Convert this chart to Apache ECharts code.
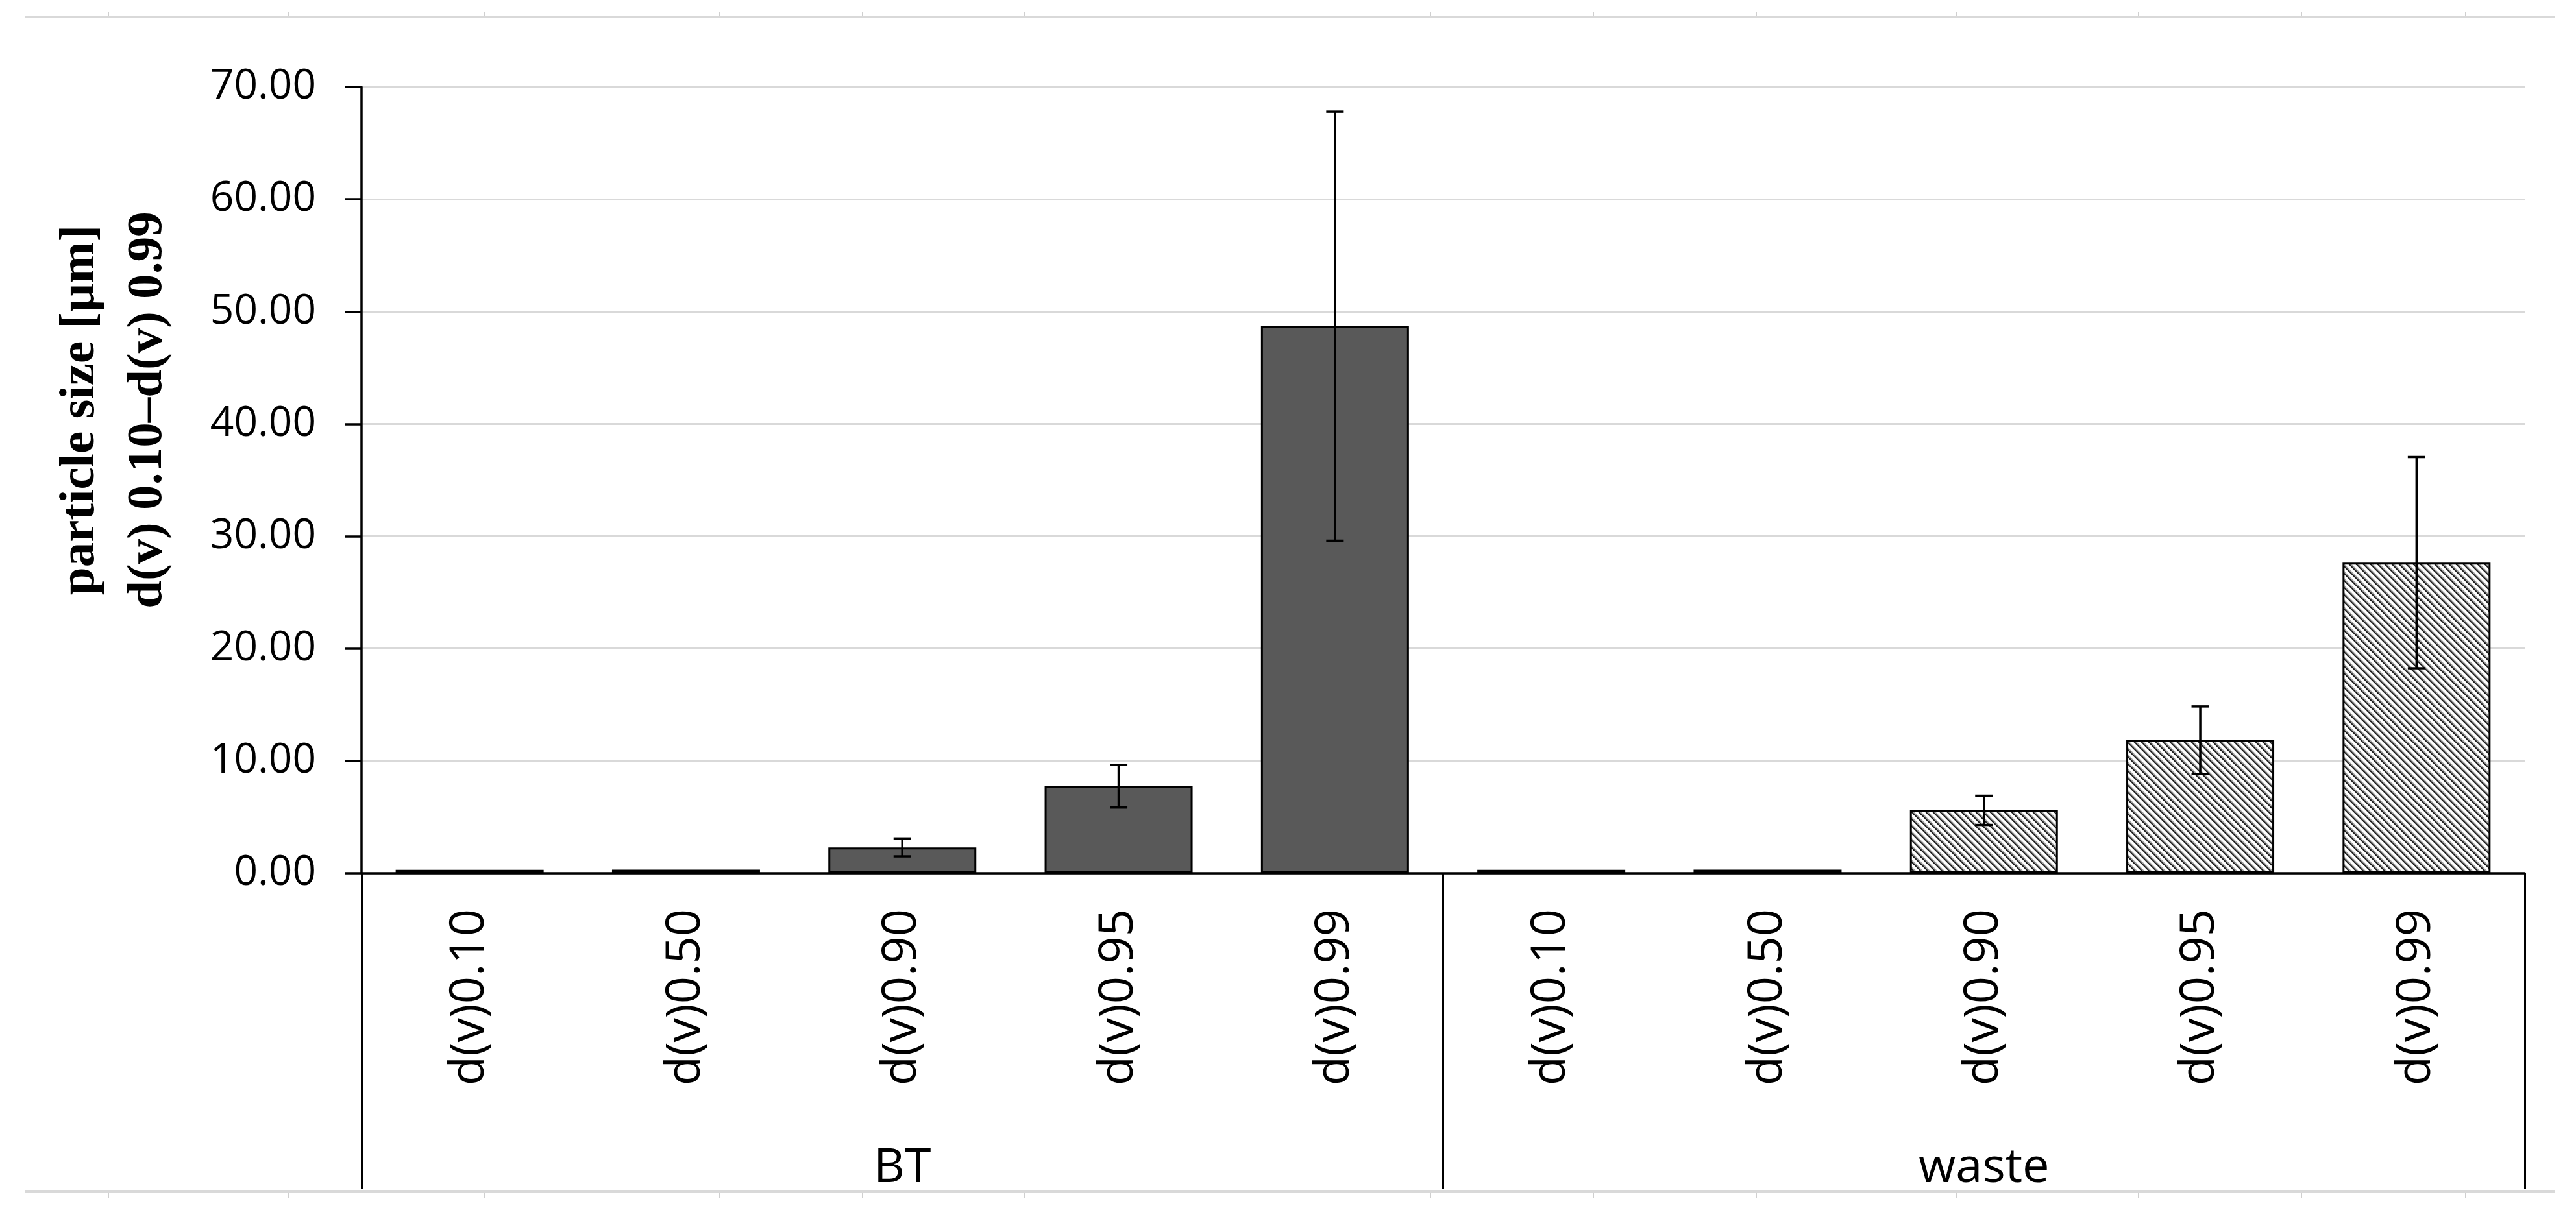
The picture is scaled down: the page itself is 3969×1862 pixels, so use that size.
<!DOCTYPE html>
<html>
<head>
<meta charset="utf-8">
<style>
    html, body { margin: 0; padding: 0; background: #fff; }
    #chart { width: 3969px; height: 1862px; }
</style>
</head>
<body>
<div id="chart"></div>
<script src="https://cdn.jsdelivr.net/npm/echarts@6/dist/echarts.min.js"></script>
<script>
    // data
    var groups = ['BT', 'waste'];
    var levels = ['d(v)0.10', 'd(v)0.50', 'd(v)0.90', 'd(v)0.95', 'd(v)0.99'];
    var btMean = [0.3, 0.32, 2.3, 7.75, 48.7];
    var btSd = [0, 0, 0.8, 1.9, 19.1];
    var wasteMean = [0.3, 0.32, 5.6, 11.85, 27.65];
    var wasteSd = [0, 0, 1.3, 3.0, 9.4];
    var yTicks = [0, 10, 20, 30, 40, 50, 60, 70];
    var yTitle = ['particle size [µm]', 'd(v) 0.10\u2013d(v) 0.99'];

    // one category per (group, level)
    var cats = [];
    groups.forEach(function (g) {
        levels.forEach(function (l) { cats.push(g + '|' + l); });
    });
    var empty = levels.map(function () { return '-'; });
    var btData = btMean.concat(empty);
    var wasteData = empty.concat(wasteMean);

    var errData = [];
    btMean.forEach(function (m, i) {
        if (btSd[i] > 0) errData.push([i, m - btSd[i], m + btSd[i]]);
    });
    wasteMean.forEach(function (m, i) {
        if (wasteSd[i] > 0) errData.push([i + levels.length, m - wasteSd[i], m + wasteSd[i]]);
    });

    // hatch fill for the waste bars
    function makeHatch() {
        var p = 11;
        var c = document.createElement('canvas');
        c.width = p;
        c.height = p;
        var ctx = c.getContext('2d');
        ctx.fillStyle = '#fff';
        ctx.fillRect(0, 0, p, p);
        function diag(off, color, w) {
            ctx.strokeStyle = color;
            ctx.lineWidth = w;
            [-p, 0, p].forEach(function (s) {
                ctx.beginPath();
                ctx.moveTo(s + off - 1, -1);
                ctx.lineTo(s + off + p + 1, p + 1);
                ctx.stroke();
            });
        }
        diag(0, '#1a1a1a', 2.2);
        diag(2.6, '#a0a0a0', 1.8);
        return c;
    }

    // page border lines (grey, with small notches)
    function pageBorders() {
        var notchX = [167, 445, 747, 1109, 1329, 1579, 2204, 2455, 2706, 3014, 3295, 3546, 3799];
        var els = [];
        var lineStyle = { stroke: '#d9d9d9', lineWidth: 4 };
        var notchStyle = { stroke: '#cfcfcf', lineWidth: 2 };
        els.push({ type: 'line', shape: { x1: 38, y1: 26, x2: 3936, y2: 26 }, style: lineStyle });
        els.push({ type: 'line', shape: { x1: 38, y1: 1837, x2: 3936, y2: 1837 }, style: lineStyle });
        notchX.forEach(function (x) {
            els.push({ type: 'line', shape: { x1: x, y1: 18, x2: x, y2: 24 }, style: notchStyle });
            els.push({ type: 'line', shape: { x1: x, y1: 1839, x2: x, y2: 1846 }, style: notchStyle });
        });
        return els;
    }

    var myChart = echarts.init(document.getElementById('chart'), null, { renderer: 'canvas' });

    var graphics = pageBorders();
    graphics.push({
        type: 'text',
        x: 176,
        y: 632,
        rotation: Math.PI / 2,
        style: {
            text: yTitle.join('\n'),
            fontFamily: 'Liberation Serif',
            fontWeight: 'bold',
            fontSize: 77,
            lineHeight: 104,
            fill: '#000',
            align: 'center',
            verticalAlign: 'middle'
        }
    });

    var option = {
        animation: false,
        backgroundColor: '#fff',
        graphic: graphics,
        grid: { left: 557, right: 79, top: 134, bottom: 516, containLabel: false },
        xAxis: [
            {
                type: 'category',
                data: cats,
                position: 'bottom',
                axisLine: { show: true, lineStyle: { color: '#000', width: 3.5 } },
                axisTick: { show: false },
                axisLabel: {
                    interval: 0,
                    rotate: 90,
                    margin: 55,
                    fontFamily: 'Open Sans',
                    fontSize: 74,
                    color: '#000',
                    formatter: function (v) { return v.split('|')[1]; }
                },
                splitLine: { show: false }
            },
            {
                type: 'category',
                data: groups,
                position: 'bottom',
                axisLine: { show: false },
                axisTick: { show: true, length: 486, lineStyle: { color: '#000', width: 3 } },
                axisLabel: {
                    margin: 455,
                    fontFamily: 'Open Sans',
                    fontSize: 74,
                    color: '#000',
                    verticalAlign: 'middle'
                },
                splitLine: { show: false }
            }
        ],
        yAxis: {
            type: 'value',
            min: yTicks[0],
            max: yTicks[yTicks.length - 1],
            interval: yTicks[1] - yTicks[0],
            axisLine: { show: true, lineStyle: { color: '#000', width: 3.5 } },
            axisTick: { show: true, inside: false, length: 26, lineStyle: { color: '#000', width: 3.5 } },
            axisLabel: {
                margin: 70,
                fontFamily: 'Open Sans',
                fontSize: 64,
                color: '#000',
                formatter: function (v) { return v.toFixed(2); }
            },
            splitLine: { show: true, lineStyle: { color: '#d9d9d9', width: 3 } }
        },
        series: [
            {
                name: 'BT',
                type: 'bar',
                data: btData,
                barWidth: 228,
                barGap: '-100%',
                itemStyle: { color: '#595959', borderColor: '#000', borderWidth: 3 },
                z: 2
            },
            {
                name: 'waste',
                type: 'bar',
                data: wasteData,
                barWidth: 228,
                barGap: '-100%',
                itemStyle: {
                    color: { image: makeHatch(), repeat: 'repeat' },
                    borderColor: '#000',
                    borderWidth: 3
                },
                z: 2
            },
            {
                name: 'sd',
                type: 'custom',
                data: errData,
                encode: { x: 0, y: [1, 2] },
                z: 5,
                renderItem: function (params, api) {
                    var lo = api.coord([api.value(0), api.value(1)]);
                    var hi = api.coord([api.value(0), api.value(2)]);
                    var half = 13.5;
                    var st = { stroke: '#000', lineWidth: 3.5 };
                    return {
                        type: 'group',
                        children: [
                            { type: 'line', shape: { x1: lo[0], y1: lo[1], x2: hi[0], y2: hi[1] }, style: st },
                            { type: 'line', shape: { x1: lo[0] - half, y1: lo[1], x2: lo[0] + half, y2: lo[1] }, style: st },
                            { type: 'line', shape: { x1: hi[0] - half, y1: hi[1], x2: hi[0] + half, y2: hi[1] }, style: st }
                        ]
                    };
                }
            }
        ]
    };
    myChart.setOption(option);
</script>
</body>
</html>
